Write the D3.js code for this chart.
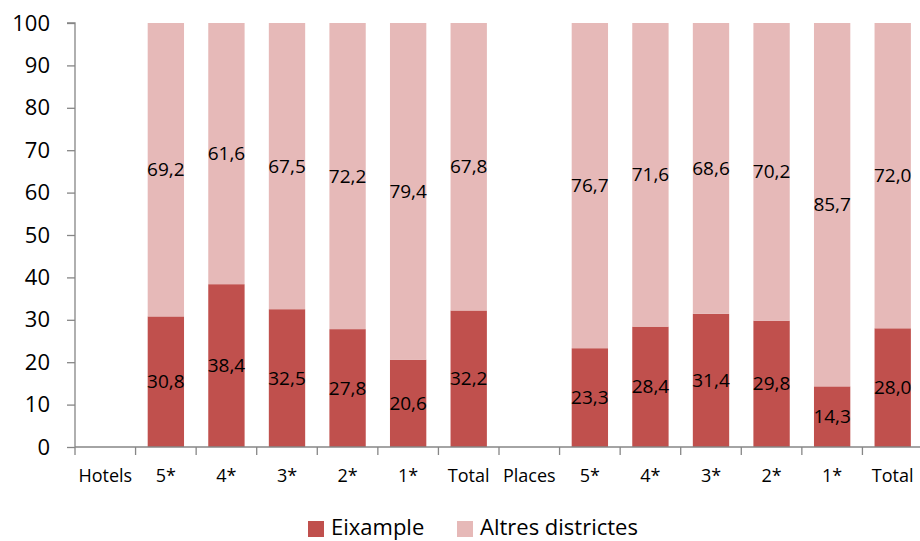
<!DOCTYPE html>
<html>
<head>
<meta charset="utf-8">
<script src="https://cdn.jsdelivr.net/npm/d3@7"></script>
<style>
  html, body { margin: 0; padding: 0; background: #fff; }
  svg { display: block; font-family: "Open Sans", "Liberation Sans", sans-serif; }
</style>
</head>
<body>
<svg id="chart" width="920" height="541"></svg>
<script>
const categories = ["Hotels", "5*", "4*", "3*", "2*", "1*", "Total", "Places", "5*", "4*", "3*", "2*", "1*", "Total"];
const eixample = [null, 30.8, 38.4, 32.5, 27.8, 20.6, 32.2, null, 23.3, 28.4, 31.4, 29.8, 14.3, 28.0];
const altres   = [null, 69.2, 61.6, 67.5, 72.2, 79.4, 67.8, null, 76.7, 71.6, 68.6, 70.2, 85.7, 72.0];
const seriesNames = ["Eixample", "Altres districtes"];
const yTicks = [0, 10, 20, 30, 40, 50, 60, 70, 80, 90, 100];

(function () {
const colors = ["#C0504D", "#E6B9B8"];
const svg = d3.select("#chart");
const pLeft = 75, pRight = 923, pTop = 23, pBottom = 447;

const idx = categories.map((d, i) => i);
const x = d3.scaleBand().domain(idx).range([pLeft, pRight]).paddingInner(0.4).paddingOuter(0.2);
const y = d3.scaleLinear().domain([0, 100]).range([pBottom, pTop]);

const rows = idx.map(i => ({ i, Eixample: eixample[i] ?? 0, "Altres districtes": altres[i] ?? 0, has: eixample[i] != null }));
const stack = d3.stack().keys(seriesNames)(rows);

const fmt = v => d3.format(".1f")(v).replace(".", ",");

stack.forEach((layer, li) => {
  const g = svg.append("g");
  layer.filter(d => d.data.has).forEach(d => {
    g.append("rect")
      .attr("x", x(d.data.i))
      .attr("y", y(d[1]))
      .attr("width", x.bandwidth())
      .attr("height", y(d[0]) - y(d[1]))
      .attr("fill", colors[li]);
  });
});

// data labels
stack.forEach((layer, li) => {
  layer.filter(d => d.data.has).forEach(d => {
    const v = d[1] - d[0];
    svg.append("text")
      .attr("x", x(d.data.i) + x.bandwidth() / 2)
      .attr("y", y((d[0] + d[1]) / 2))
      .attr("dy", "0.35em")
      .attr("text-anchor", "middle")
      .attr("font-size", 19)
      .attr("fill", "#000")
      .text(fmt(v));
  });
});

// y axis
const yAxis = svg.append("g")
  .attr("transform", `translate(${pLeft},0)`)
  .call(d3.axisLeft(y).tickValues(yTicks).tickSize(8).tickPadding(17).tickFormat(d3.format("d")));
yAxis.selectAll("text").attr("font-size", 22).attr("fill", "#000").attr("font-family", "Open Sans, sans-serif");
yAxis.selectAll("line").attr("stroke", "#868686").attr("stroke-width", 1.3);
yAxis.select(".domain").attr("stroke", "#868686").attr("stroke-width", 1.3).attr("d", `M-8,${pTop}H0V${pBottom}`);

// x axis
const xg = svg.append("g").attr("transform", `translate(0,${pBottom})`);
xg.append("line").attr("x1", pLeft).attr("x2", 920).attr("y1", 0).attr("y2", 0)
  .attr("stroke", "#868686").attr("stroke-width", 1.3);
idx.forEach(i => {
  const bx = x(i) - x.step() * x.paddingInner() / 2;
  xg.append("line").attr("x1", bx).attr("x2", bx).attr("y1", 0).attr("y2", 8)
    .attr("stroke", "#868686").attr("stroke-width", 1.3);
  xg.append("text")
    .attr("x", x(i) + x.bandwidth() / 2)
    .attr("y", 35)
    .attr("text-anchor", "middle")
    .attr("font-size", 18)
    .attr("fill", "#000")
    .text(categories[i]);
});

// legend
const legend = svg.append("g");
const legendItems = [{ name: seriesNames[0], x: 308 }, { name: seriesNames[1], x: 457 }];
legendItems.forEach((it, k) => {
  legend.append("rect").attr("x", it.x).attr("y", 521).attr("width", 16).attr("height", 16).attr("fill", colors[k]);
  legend.append("text").attr("x", it.x + 23).attr("y", 535).attr("font-size", 22).attr("fill", "#000").text(it.name);
});
})();
</script>
</body>
</html>
